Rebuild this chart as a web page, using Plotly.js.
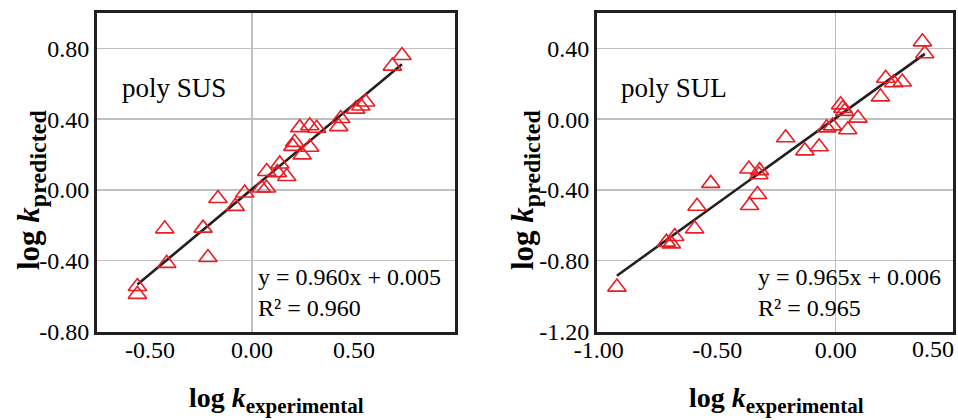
<!DOCTYPE html>
<html>
<head>
<meta charset="utf-8">
<script src="https://cdn.plot.ly/plotly-3.0.1.min.js"></script>
<style>html,body{margin:0;padding:0;background:#fff;}#chart{width:958px;height:420px;}</style>
</head>
<body>
<div id="chart"></div>
<script>
// ---- Data: poly SUS (left panel) ----
const susExperimental = [0.735, 0.688, 0.557, 0.533, 0.508, 0.435, 0.425, 0.234, 0.283, 0.317,
  0.209, 0.200, 0.283, 0.246, 0.136, 0.072, 0.124, 0.170, 0.046, 0.071,
  -0.036, -0.082, -0.167, -0.240, -0.428, -0.418, -0.216, -0.562, -0.562];
const susPredicted = [0.760, 0.700, 0.497, 0.474, 0.457, 0.404, 0.358, 0.352, 0.363, 0.349,
  0.269, 0.246, 0.241, 0.198, 0.147, 0.104, 0.098, 0.076, 0.011, 0.011,
  -0.017, -0.093, -0.048, -0.216, -0.220, -0.415, -0.382, -0.546, -0.590];
const susSlope = 0.960, susIntercept = 0.005, susR2 = 0.960;

// ---- Data: poly SUL (right panel) ----
const sulExperimental = [0.366, 0.376, 0.211, 0.245, 0.281, 0.189,
  0.021, 0.030, 0.038, 0.094, 0.051, -0.038, -0.013,
  -0.070, -0.130, -0.211, -0.366, -0.321, -0.324, -0.330, -0.363,
  -0.527, -0.585, -0.595, -0.679, -0.714, -0.693, -0.923];
const sulPredicted = [0.437, 0.370, 0.231, 0.206, 0.210, 0.126,
  0.081, 0.062, 0.044, 0.006, -0.060, -0.049, -0.038,
  -0.156, -0.179, -0.105, -0.282, -0.291, -0.314, -0.426, -0.488,
  -0.363, -0.492, -0.620, -0.663, -0.695, -0.705, -0.949];
const sulSlope = 0.965, sulIntercept = 0.006, sulR2 = 0.965;

// ---- Tick labels ----
const susXTicks = [-0.5, 0, 0.5, 1.0];
const susXTickText = ['-0.50', '0.00', '0.50', '1.00'];
const susYTicks = [-0.8, -0.4, 0, 0.4, 0.8];
const susYTickText = ['-0.80', '-0.40', '0.00', '0.40', '0.80'];
const sulXTicks = [-1.0, -0.5, 0, 0.5];
const sulXTickText = ['-1.00', '-0.50', '0.00', '0.50'];
const sulYTicks = [-1.2, -0.8, -0.4, 0, 0.4];
const sulYTickText = ['-1.20', '-0.80', '-0.40', '0.00', '0.40'];

const RED = '#ec1c24';
const INK = '#231f20';
const GRID = '#bfbfbf';
const FONT = 'Liberation Serif';

function fitLine(xs, m, b) {
  const lo = Math.min(...xs), hi = Math.max(...xs);
  return { x: [lo, hi], y: [m * lo + b, m * hi + b] };
}
const susFit = fitLine(susExperimental, susSlope, susIntercept);
const sulFit = fitLine(sulExperimental, sulSlope, sulIntercept);

const marker = { symbol: 'triangle-up-open', size: 16, color: RED, line: { color: RED, width: 1.6 } };

const traces = [
  { x: susFit.x, y: susFit.y, mode: 'lines', line: { color: INK, width: 2.6 }, xaxis: 'x', yaxis: 'y', hoverinfo: 'skip' },
  { x: susExperimental, y: susPredicted, mode: 'markers', marker: marker, xaxis: 'x', yaxis: 'y' },
  { x: sulFit.x, y: sulFit.y, mode: 'lines', line: { color: INK, width: 2.6 }, xaxis: 'x2', yaxis: 'y2', hoverinfo: 'skip' },
  { x: sulExperimental, y: sulPredicted, mode: 'markers', marker: marker, xaxis: 'x2', yaxis: 'y2' }
];

const W = 958, H = 420;
const px = v => v / W;
const py = v => 1 - v / H;
const tf = () => ({ family: FONT, size: 24, color: '#000' });

function xAxis(domain, range, vals, text) {
  return {
    domain: domain, range: range, tickvals: vals.slice(0, -1), ticktext: text.slice(0, -1),
    showgrid: false, zeroline: true, zerolinecolor: GRID, zerolinewidth: 1.5,
    showline: true, mirror: true, linecolor: INK, linewidth: 3, ticks: '',
    tickfont: tf(), ticklabelstandoff: -5, fixedrange: true
  };
}
function yAxis(domain, range, vals, text, anchor) {
  return {
    domain: domain, range: range, tickvals: vals, ticktext: text, anchor: anchor,
    showgrid: true, gridcolor: GRID, gridwidth: 1.5, zeroline: true, zerolinecolor: GRID, zerolinewidth: 1.5,
    showline: true, mirror: true, linecolor: INK, linewidth: 3, ticks: '',
    tickfont: tf(), ticklabelstandoff: 0, fixedrange: true
  };
}

const yDom = [py(331.5), py(13)];
const xTitle = '<b>log <i>k</i><sub><span style="font-size:21px">experimental</span></sub></b>';
const yTitle = '<b>log <i>k</i><sub><span style="font-size:24px">predicted</span></sub></b>';
const layout = {
  width: W, height: H, margin: { l: 0, r: 0, t: 0, b: 0 },
  paper_bgcolor: '#fff', plot_bgcolor: '#fff', showlegend: false,
  font: { family: FONT, color: '#000' },
  xaxis: Object.assign(xAxis([px(97), px(455)], [-0.76, 0.995], susXTicks, susXTickText), { anchor: 'y' }),
  yaxis: yAxis(yDom, [-0.8, 1.0], susYTicks, susYTickText, 'x'),
  xaxis2: Object.assign(xAxis([px(597), px(953)], [-1.007, 0.495], sulXTicks, sulXTickText), { anchor: 'y2' }),
  yaxis2: yAxis(yDom, [-1.2, 0.6], sulYTicks, sulYTickText, 'x2'),
  annotations: [
    // edge tick labels (kept inside the figure like the original)
    { xref: 'x', yref: 'paper', x: susXTicks[susXTicks.length - 1], y: py(349), xanchor: 'right', yanchor: 'middle', xshift: 6,
      text: susXTickText[susXTickText.length - 1], showarrow: false, font: tf() },
    { xref: 'x2', yref: 'paper', x: 0.495, y: py(349), xanchor: 'right', yanchor: 'middle', xshift: 3,
      text: sulXTickText[sulXTickText.length - 1], showarrow: false, font: tf() },
    // panel labels
    { xref: 'paper', yref: 'paper', x: px(120), y: py(88), xanchor: 'left', yanchor: 'middle',
      text: 'poly SUS', showarrow: false, font: { family: FONT, size: 27, color: '#000' } },
    { xref: 'paper', yref: 'paper', x: px(619), y: py(88), xanchor: 'left', yanchor: 'middle',
      text: 'poly SUL', showarrow: false, font: { family: FONT, size: 27, color: '#000' } },
    // equations
    { xref: 'paper', yref: 'paper', x: px(256), y: py(292), xanchor: 'left', yanchor: 'middle', align: 'left',
      text: 'y = ' + susSlope.toFixed(3) + 'x + ' + susIntercept.toFixed(3) + '<br>R² = ' + susR2.toFixed(3),
      showarrow: false, font: { family: FONT, size: 24, color: '#000' } },
    { xref: 'paper', yref: 'paper', x: px(756), y: py(292), xanchor: 'left', yanchor: 'middle', align: 'left',
      text: 'y = ' + sulSlope.toFixed(3) + 'x + ' + sulIntercept.toFixed(3) + '<br>R² = ' + sulR2.toFixed(3),
      showarrow: false, font: { family: FONT, size: 24, color: '#000' } },
    // axis titles
    { xref: 'paper', yref: 'paper', x: px(276), y: py(400), xanchor: 'center', yanchor: 'middle',
      text: xTitle, showarrow: false, font: { family: FONT, size: 28, color: '#000' } },
    { xref: 'paper', yref: 'paper', x: px(776), y: py(400), xanchor: 'center', yanchor: 'middle',
      text: xTitle, showarrow: false, font: { family: FONT, size: 28, color: '#000' } },
    { xref: 'paper', yref: 'paper', x: px(31), y: py(190), xanchor: 'center', yanchor: 'middle', textangle: -90,
      text: yTitle, showarrow: false, font: { family: FONT, size: 31, color: '#000' } },
    { xref: 'paper', yref: 'paper', x: px(525), y: py(190), xanchor: 'center', yanchor: 'middle', textangle: -90,
      text: yTitle, showarrow: false, font: { family: FONT, size: 31, color: '#000' } }
  ]
};

Plotly.newPlot('chart', traces, layout, { staticPlot: true, displayModeBar: false });
</script>
</body>
</html>
